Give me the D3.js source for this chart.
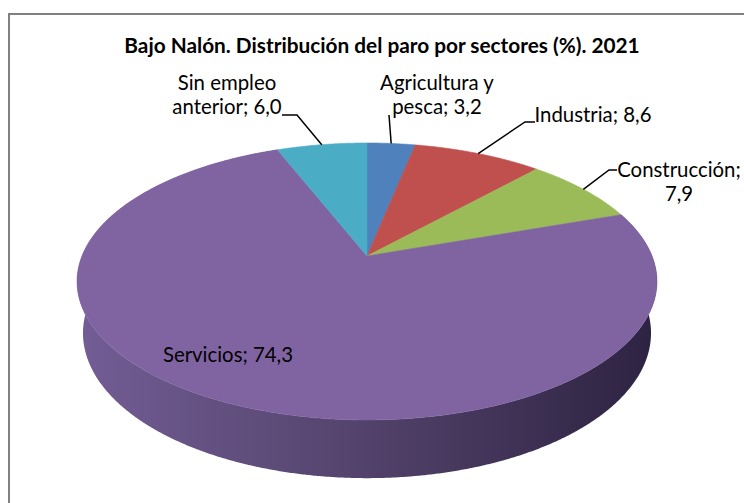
<!DOCTYPE html>
<html>
<head>
<meta charset="utf-8">
<script src="https://cdn.jsdelivr.net/npm/d3@7"></script>
<style>
  body { margin: 0; background: #fff; }
  text { font-family: Lato, "Open Sans", sans-serif; fill: #000; }
</style>
</head>
<body>
<div id="chart"></div>
<script>
// datos
var sectores = ["Agricultura y pesca", "Industria", "Construcción", "Servicios", "Sin empleo anterior"];
var valores = [3.2, 8.6, 7.9, 74.3, 6.0];
var colores = ["#4F81BD", "#C0504D", "#9BBB59", "#8064A2", "#4BACC6"];
var titulo = "Bajo Nalón. Distribución del paro por sectores (%). 2021";

// posiciones de las etiquetas (centro, primera linea base) y de la linea guia
var etiquetaPos = [[437, 90], [593, 122], [679, 177], [228, 362], [227, 90]];
var guiaInicio = [[389, 115], [535, 122], [617, 170], null, [282, 115]];
var guiaCodo = [null, [525, 122], [609, 170], null, [297, 115]];

var fw = 744, fh = 503;

var svg = d3.select("#chart")
    .append("svg")
    .attr("width", fw)
    .attr("height", fh);

// marco
svg.append("rect")
    .attr("x", 9).attr("y", 14)
    .attr("width", 800).attr("height", 600)
    .attr("fill", "#fff")
    .attr("stroke", "#808080")
    .attr("stroke-width", 2);

// proyeccion en perspectiva del disco
var cx = 367, cy = 256;
var tilt = 28 * Math.PI / 180;
var sn = Math.sin(tilt), cs = Math.cos(tilt);
var dist = 4.8, foco = 1368, grosor = 0.2065;

function proj(a, r, prof) {
    var X = r * Math.sin(a);
    var F = -r * Math.cos(a);
    var yc = F * sn + prof * cs;
    var z = dist - F * cs + prof * sn;
    return [cx + foco * X / z, cy + foco * yc / z];
}

function arco(a0, a1, r, prof) {
    var n = Math.max(2, Math.ceil((a1 - a0) / 0.005));
    return d3.range(n + 1).map(function(i) {
        return proj(a0 + (a1 - a0) * i / n, r, prof);
    });
}

var pie = d3.pie().sort(null).value(function(d) { return d; });
var arcos = pie(valores);
var linea = d3.line();

// degradado del lateral
var defs = svg.append("defs");
var grad = defs.append("linearGradient")
    .attr("id", "lateral")
    .attr("gradientUnits", "userSpaceOnUse")
    .attr("x1", cx - 295).attr("x2", cx + 295)
    .attr("y1", 0).attr("y2", 0);
grad.append("stop").attr("offset", "0%").attr("stop-color", "#735e96");
grad.append("stop").attr("offset", "45%").attr("stop-color", "#56456f");
grad.append("stop").attr("offset", "100%").attr("stop-color", "#2c2240");

var g = svg.append("g");

// lateral (solo se ve el de servicios)
arcos.forEach(function(d, i) {
    if (d.endAngle - d.startAngle < Math.PI) return;
    var arriba = arco(d.startAngle, d.endAngle, 1, 0);
    var abajo = arco(d.startAngle, d.endAngle, 1, grosor).reverse();
    g.append("path")
        .attr("d", linea(arriba.concat(abajo)) + "Z")
        .attr("fill", "url(#lateral)");
});

// cara superior
g.selectAll(".sector")
    .data(arcos)
    .enter()
    .append("path")
    .attr("class", "sector")
    .attr("d", function(d) {
        var pts = [proj(0, 0, 0)].concat(arco(d.startAngle, d.endAngle, 1, 0));
        return linea(pts) + "Z";
    })
    .attr("fill", function(d, i) { return colores[i]; })
    .attr("stroke", function(d, i) { return colores[i]; })
    .attr("stroke-width", 0.6);

// ajustar tamaño de letra por ancho
function ajustar(sel, texto, ancho) {
    var t = sel.append("text").attr("font-size", 100).text(texto);
    var w = t.node().getComputedTextLength();
    t.remove();
    return 100 * ancho / w;
}

var tamTitulo = ajustar(svg, titulo, 510);
svg.append("text")
    .attr("x", 382).attr("y", 53)
    .attr("text-anchor", "middle")
    .attr("font-weight", "bold")
    .attr("font-size", tamTitulo)
    .text(titulo);

var tamEtiq = ajustar(svg, "Industria; 8,6", 117);

function fmt(v) { return v.toFixed(1).replace(".", ","); }

// lineas guia
arcos.forEach(function(d, i) {
    if (!guiaInicio[i]) return;
    var medio = (d.startAngle + d.endAngle) / 2;
    var pts = [guiaInicio[i]];
    if (guiaCodo[i]) pts.push(guiaCodo[i]);
    pts.push(proj(medio, 1, 0));
    svg.append("path")
        .attr("d", linea(pts))
        .attr("fill", "none")
        .attr("stroke", "#000")
        .attr("stroke-width", 1.5);
});

// etiquetas
var maxAncho = 128;
arcos.forEach(function(d, i) {
    var txt = sectores[i] + "; " + fmt(valores[i]);
    var t = svg.append("text")
        .attr("x", etiquetaPos[i][0]).attr("y", etiquetaPos[i][1])
        .attr("text-anchor", "middle")
        .attr("font-size", tamEtiq)
        .attr("fill", i == 3 ? "#1a1a1a" : "#000");
    // partir en lineas por ancho
    var palabras = txt.split(" ");
    var lineas = [], actual = [];
    var prueba = t.append("tspan");
    palabras.forEach(function(p) {
        var cand = actual.concat([p]).join(" ");
        prueba.text(cand);
        if (i != 3 && actual.length && prueba.node().getComputedTextLength() > maxAncho) {
            lineas.push(actual.join(" "));
            actual = [p];
        } else {
            actual.push(p);
        }
    });
    lineas.push(actual.join(" "));
    prueba.remove();
    lineas.forEach(function(l, k) {
        t.append("tspan")
            .attr("x", etiquetaPos[i][0])
            .attr("dy", k == 0 ? 0 : 24)
            .text(l);
    });
});
</script>
</body>
</html>
